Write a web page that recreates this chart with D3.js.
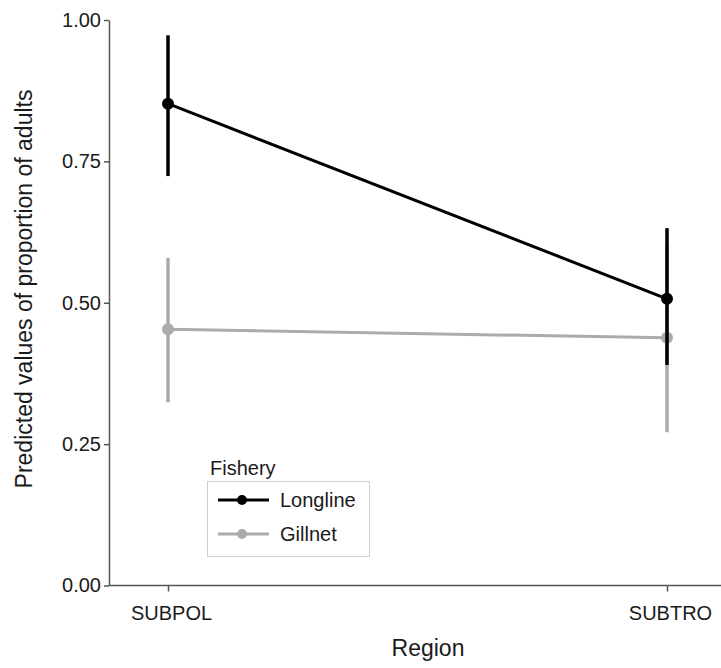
<!DOCTYPE html>
<html><head><meta charset="utf-8">
<script src="https://cdn.jsdelivr.net/npm/d3@7"></script>
<style>body{margin:0;background:#fff}svg{display:block}text{font-family:"Liberation Sans",Arial,sans-serif;fill:#1a1a1a}</style>
</head><body><svg id="c" width="721" height="668"></svg>
<script>
const regions = ["SUBPOL", "SUBTRO"];
const fisheries = ["Longline", "Gillnet"];
const longlineFit = [0.852, 0.507];
const longlineLow = [0.724, 0.390];
const longlineHigh = [0.973, 0.632];
const gillnetFit = [0.453, 0.438];
const gillnetLow = [0.324, 0.271];
const gillnetHigh = [0.579, 0.600];
const yTicks = [0, 0.25, 0.5, 0.75, 1];
const colors = {Longline: "#000000", Gillnet: "#ababab"};

const svg = d3.select("#c");
const x = d3.scalePoint().domain(regions).range([168, 667]);
const y = d3.scaleLinear().domain([0, 1]).range([585.5, 20]);
const axisColor = "#555";

// y axis
const ya = svg.append("g").attr("transform", "translate(109,0)")
  .call(d3.axisLeft(y).tickValues(yTicks).tickFormat(d3.format(".2f")).tickSize(5).tickSizeOuter(0));
ya.select(".domain").attr("stroke", axisColor).attr("stroke-width", 1.5);
ya.selectAll(".tick line").attr("stroke", axisColor).attr("stroke-width", 1.5);
ya.selectAll(".tick text").attr("font-size", 20).attr("x", -8).attr("fill", "#1a1a1a")
  .style("font-family", "'Liberation Sans', Arial, sans-serif");

// x axis
const xa = svg.append("g").attr("transform", "translate(0,585.5)")
  .call(d3.axisBottom(x).tickSize(6).tickSizeOuter(0));
xa.select(".domain").remove();
xa.append("line").attr("x1", 109).attr("x2", 721).attr("y1", 0).attr("y2", 0)
  .attr("stroke", axisColor).attr("stroke-width", 1.5);
xa.selectAll(".tick line").attr("stroke", axisColor).attr("stroke-width", 1.5);
xa.selectAll(".tick text").attr("font-size", 20).attr("y", 20).attr("dx", 3).attr("fill", "#1a1a1a")
  .style("font-family", "'Liberation Sans', Arial, sans-serif");

// axis titles
svg.append("text").attr("x", 428).attr("y", 656).attr("text-anchor", "middle")
  .attr("font-size", 23).text("Region");
svg.append("text").attr("transform", "translate(32,289) rotate(-90)").attr("text-anchor", "middle")
  .attr("font-size", 23).text("Predicted values of proportion of adults");

// series
const series = [
  {name: "Gillnet", fit: gillnetFit, low: gillnetLow, high: gillnetHigh},
  {name: "Longline", fit: longlineFit, low: longlineLow, high: longlineHigh}
];
const line = d3.line().x((d, i) => x(regions[i])).y(d => y(d));
series.forEach(s => {
  const g = svg.append("g");
  const col = colors[s.name];
  g.append("path").datum(s.fit).attr("d", line).attr("fill", "none")
    .attr("stroke", col).attr("stroke-width", 3);
  g.selectAll("line.err").data(regions).enter().append("line")
    .attr("x1", d => x(d)).attr("x2", d => x(d))
    .attr("y1", (d, i) => y(s.low[i])).attr("y2", (d, i) => y(s.high[i]))
    .attr("stroke", col).attr("stroke-width", 3.5);
  g.selectAll("circle").data(regions).enter().append("circle")
    .attr("cx", d => x(d)).attr("cy", (d, i) => y(s.fit[i])).attr("r", 6).attr("fill", col);
});

// legend
const lg = svg.append("g");
lg.append("text").attr("x", 210).attr("y", 475).attr("font-size", 20).text("Fishery");
lg.append("rect").attr("x", 207.5).attr("y", 481.5).attr("width", 162).attr("height", 75)
  .attr("fill", "#fff").attr("stroke", "#cfcfcf").attr("stroke-width", 1);
fisheries.forEach((f, i) => {
  const yy = 500 + i * 34;
  lg.append("line").attr("x1", 218).attr("x2", 269).attr("y1", yy).attr("y2", yy)
    .attr("stroke", colors[f]).attr("stroke-width", 3);
  lg.append("circle").attr("cx", 242).attr("cy", yy).attr("r", 5).attr("fill", colors[f]);
  lg.append("text").attr("x", 280).attr("y", yy + 7).attr("font-size", 20).text(f);
});
</script></body></html>
